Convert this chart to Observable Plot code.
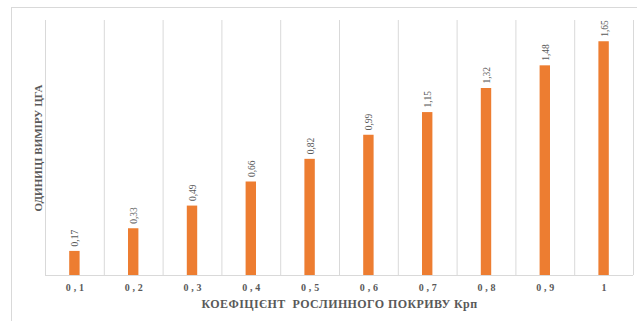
<!DOCTYPE html>
<html>
<head>
<meta charset="utf-8">
<script src="https://cdn.jsdelivr.net/npm/d3@7"></script>
<script src="https://cdn.jsdelivr.net/npm/@observablehq/plot@0.6"></script>
<style>
  html, body { margin: 0; padding: 0; background: #fff; overflow: hidden; }
  #wrap { position: relative; width: 637px; height: 321px; }
  #border { position: absolute; left: 11px; top: 7px; width: 700px; height: 400px; border: 1px solid #d9d9d9; pointer-events: none; }
  .xticks text { letter-spacing: 2.8px; }
  .xtitle text { letter-spacing: 0.4px; }
</style>
</head>
<body>
<div id="wrap"><div id="border"></div></div>
<script>
const categories = ["0,1", "0,2", "0,3", "0,4", "0,5", "0,6", "0,7", "0,8", "0,9", "1"];
const values = [0.17, 0.33, 0.49, 0.66, 0.82, 0.99, 1.15, 1.32, 1.48, 1.65];
const xTitle = "КОЕФІЦІЄНТ  РОСЛИННОГО ПОКРИВУ Крп";
const yTitle = "ОДИНИЦІ ВИМІРУ ЦГА";

const data = categories.map((c, i) => ({cat: c, value: values[i], label: values[i].toFixed(2).replace(".", ",")}));

const W = 637, H = 321, mL = 45, mR = 4, mT = 20, mB = 46;
const bw = (W - mL - mR) / categories.length;

const chart = Plot.plot({
  width: W, height: H,
  marginLeft: mL, marginRight: mR, marginTop: mT, marginBottom: mB,
  style: {fontFamily: "'Liberation Serif', 'Times New Roman', serif", color: "#595959", background: "transparent", overflow: "visible"},
  x: {domain: categories, padding: 0, round: false, label: null},
  y: {domain: [0, 1.8], axis: null},
  marks: [
    Plot.ruleX(categories, {x: d => d, dx: -bw / 2, stroke: "#d9d9d9", strokeWidth: 1}),
    Plot.ruleX([categories[categories.length - 1]], {x: d => d, dx: bw / 2, stroke: "#d9d9d9", strokeWidth: 1}),
    Plot.barY(data, {x: "cat", y: "value", fill: "#ED7D31", insetLeft: 24.2, insetRight: 24.2}),
    Plot.ruleY([0], {stroke: "#d9d9d9", strokeWidth: 1}),
    Plot.text(data, {x: "cat", y: "value", text: "label", rotate: -90, textAnchor: "start", lineAnchor: "middle", dy: -5, dx: 0.5, fontSize: 9.5, fill: "#595959"}),
    Plot.axisX({tickSize: 0, tickPadding: 8, fontSize: 10, fontWeight: "bold", className: "xticks", dx: 1.4, label: null}),
    Plot.text([xTitle], {frameAnchor: "bottom", dy: 29, fontSize: 12, fontWeight: "bold", fill: "#595959", lineAnchor: "middle", className: "xtitle"}),
    Plot.text([yTitle], {frameAnchor: "left", dx: -7, rotate: -90, fontSize: 11, fontWeight: "bold", fill: "#595959", lineAnchor: "middle", textAnchor: "middle"})
  ]
});
chart.style.position = "absolute";
chart.style.left = "0px";
chart.style.top = "0px";
document.getElementById("wrap").prepend(chart);
</script>
</body>
</html>
